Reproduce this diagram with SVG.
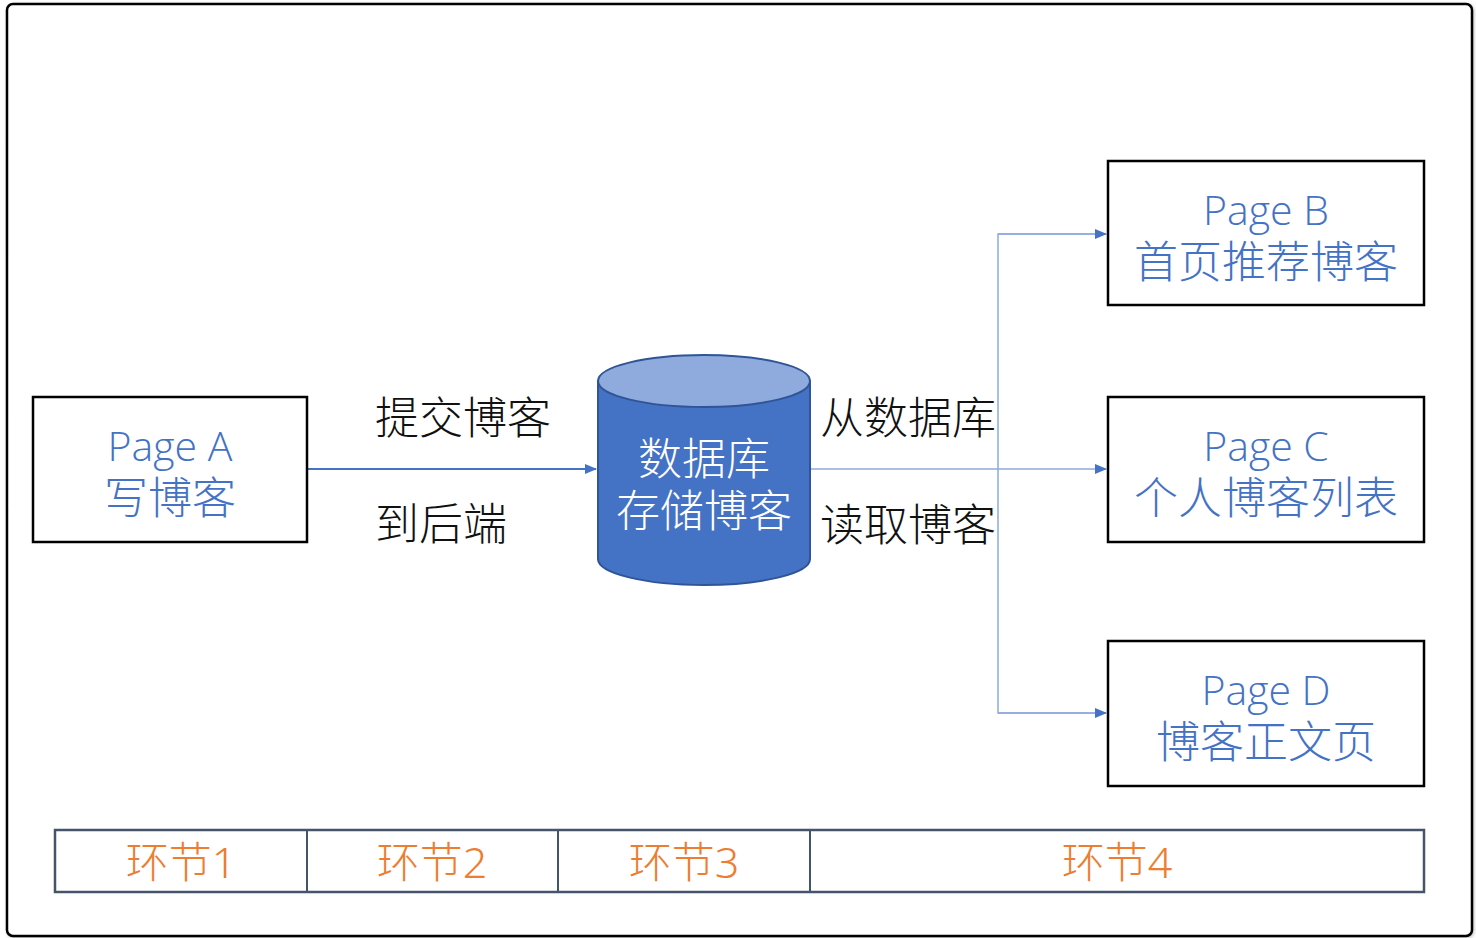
<svg xmlns="http://www.w3.org/2000/svg" width="1476" height="938" viewBox="0 0 1476 938">
<defs>
<marker id="arr" markerWidth="12" markerHeight="10" refX="11" refY="5" orient="auto" markerUnits="userSpaceOnUse">
<path d="M0,0 L12,5 L0,10 Z" fill="#4472C4"/>
</marker>
<filter id="sh" x="-2%" y="-2%" width="104%" height="104%">
<feDropShadow dx="1" dy="1" stdDeviation="1.5" flood-color="#000" flood-opacity="0.25"/>
</filter>
</defs>
<style>
.box{fill:#fff;stroke:#000;stroke-width:2.5}
.pt{font-family:"Open Sans","Noto Sans","Noto Sans CJK SC",sans-serif;font-size:41px;font-weight:300;fill:#4472C4;text-anchor:middle}
.cj{font-family:"Noto Sans CJK SC",sans-serif;font-size:44px;font-weight:300;fill:#4472C4;text-anchor:middle}
.lb{font-family:"Noto Sans CJK SC",sans-serif;font-size:44px;font-weight:300;fill:#111}
.st{font-family:"Noto Sans","Noto Sans CJK SC",sans-serif;font-size:43px;font-weight:300;fill:#ED7D31;text-anchor:middle}
.ln{fill:none;stroke:#4472C4;stroke-width:2}
.ln2{fill:none;stroke:#8FAADC;stroke-width:1.5}
</style>
<rect x="0" y="0" width="1476" height="938" fill="#fff"/>
<rect x="7" y="4" width="1465" height="932" rx="6" fill="#fff" stroke="#000" stroke-width="2.5" filter="url(#sh)"/>

<g id="connectors">
<line class="ln" x1="308" y1="469" x2="596" y2="469" marker-end="url(#arr)"/>
<line class="ln2" x1="810" y1="469" x2="1106" y2="469" marker-end="url(#arr)"/>
<polyline class="ln2" points="1106,234 998,234 998,713 1106,713"/>
<line class="ln2" x1="998" y1="234" x2="1106" y2="234" marker-end="url(#arr)"/>
<line class="ln2" x1="998" y1="713" x2="1106" y2="713" marker-end="url(#arr)"/>
<text class="lb" x="375" y="434">提交博客</text>
<text class="lb" x="375" y="540">到后端</text>
<text class="lb" x="820" y="434">从数据库</text>
<text class="lb" x="820" y="541">读取博客</text>
</g>

<g id="pageA">
<rect class="box" x="33" y="397" width="274" height="145"/>
<text class="pt" x="170" y="461">Page A</text>
<text class="cj" x="170" y="514">写博客</text>
</g>

<g id="db">
<path d="M598,381 L598,559 A106,26 0 0 0 810,559 L810,381 Z" fill="#4472C4" stroke="#2F5597" stroke-width="2"/>
<ellipse cx="704" cy="381" rx="106" ry="26" fill="#8FAADC" stroke="#2F5597" stroke-width="2"/>
<text class="cj" x="704" y="475" style="fill:#fff">数据库</text>
<text class="cj" x="704" y="527" style="fill:#fff">存储博客</text>
</g>

<g id="pageB">
<rect class="box" x="1108" y="161" width="316" height="144"/>
<text class="pt" x="1266" y="225">Page B</text>
<text class="cj" x="1266" y="278">首页推荐博客</text>
</g>

<g id="pageC">
<rect class="box" x="1108" y="397" width="316" height="145"/>
<text class="pt" x="1266" y="461">Page C</text>
<text class="cj" x="1266" y="514">个人博客列表</text>
</g>

<g id="pageD">
<rect class="box" x="1108" y="641" width="316" height="145"/>
<text class="pt" x="1266" y="705">Page D</text>
<text class="cj" x="1266" y="758">博客正文页</text>
</g>

<g id="stages">
<rect x="55" y="830" width="1369" height="62" fill="#fff" stroke="#44546A" stroke-width="2.5"/>
<line x1="307" y1="830" x2="307" y2="892" stroke="#44546A" stroke-width="2"/>
<line x1="558" y1="830" x2="558" y2="892" stroke="#44546A" stroke-width="2"/>
<line x1="810" y1="830" x2="810" y2="892" stroke="#44546A" stroke-width="2"/>
<text class="st" x="181" y="878">环节1</text>
<text class="st" x="432" y="878">环节2</text>
<text class="st" x="684" y="878">环节3</text>
<text class="st" x="1117" y="878">环节4</text>
</g>
</svg>
